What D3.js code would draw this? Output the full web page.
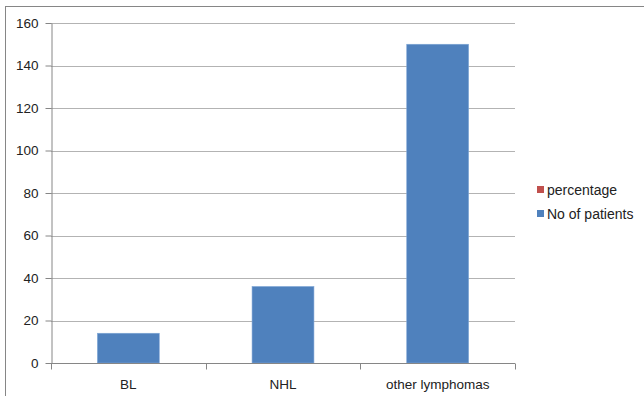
<!DOCTYPE html>
<html>
<head>
<meta charset="utf-8">
<script src="https://cdn.jsdelivr.net/npm/d3@7"></script>
<style>
    body { margin: 0; background: #fff; }
    text { font-family: "Liberation Sans", Arial, sans-serif; fill: #222; }
</style>
</head>
<body>
<div id="chart"></div>
<script>
// chart values
const categories = ["BL", "NHL", "other lymphomas"];
const patients = [14, 36, 150];
const percentage = [null, null, null];
const yTicks = [0, 20, 40, 60, 80, 100, 120, 140, 160];
const seriesNames = ["percentage", "No of patients"];
const seriesColors = ["#c0504d", "#4f81bd"];

const width = 644;
const height = 396;
const plot = { left: 51, right: 515, top: 23, bottom: 363 };

const svg = d3.select("#chart")
    .append("svg")
    .attr("width", width)
    .attr("height", height);

// outer frame (runs off the right and bottom edge)
svg.append("rect")
    .attr("x", 5.5)
    .attr("y", 6.5)
    .attr("width", 700)
    .attr("height", 450)
    .attr("fill", "#fff")
    .attr("stroke", "#868686")
    .attr("stroke-width", 1);

const x = d3.scaleBand()
    .domain(categories)
    .range([plot.left, plot.right])
    .paddingInner(0)
    .paddingOuter(0);

const y = d3.scaleLinear()
    .domain([0, 160])
    .range([plot.bottom, plot.top]);

// gridlines
svg.append("g")
    .selectAll("line")
    .data(yTicks.slice(1))
    .join("line")
    .attr("x1", plot.left)
    .attr("x2", plot.right)
    .attr("y1", d => Math.round(y(d)) + 0.5)
    .attr("y2", d => Math.round(y(d)) + 0.5)
    .attr("stroke", "#b3b3b3")
    .attr("stroke-width", 1);

// bars
svg.append("g")
    .selectAll("rect")
    .data(patients)
    .join("rect")
    .attr("x", (d, i) => x(categories[i]) + x.bandwidth() * 0.3)
    .attr("width", x.bandwidth() * 0.4)
    .attr("y", d => y(d))
    .attr("height", d => y(0) - y(d))
    .attr("fill", seriesColors[1])
    .attr("stroke", "#7fa6d6")
    .attr("stroke-width", 0.6);

// y axis
const yAxis = svg.append("g")
    .attr("transform", `translate(${plot.left + 0.5},0)`)
    .call(d3.axisLeft(y).tickValues(yTicks).tickSize(6).tickPadding(7).tickSizeOuter(0));
yAxis.select(".domain").attr("stroke", "#868686");
yAxis.selectAll(".tick line").attr("stroke", "#868686");
yAxis.selectAll(".tick text").attr("font-size", 13.5).attr("fill", "#222");

// x axis
const xAxis = svg.append("g")
    .attr("transform", `translate(0,${plot.bottom + 0.5})`);
xAxis.append("line")
    .attr("x1", plot.left)
    .attr("x2", plot.right)
    .attr("stroke", "#868686");
xAxis.selectAll("line.tk")
    .data([plot.left, ...categories.map(c => x(c) + x.bandwidth()) ])
    .join("line")
    .attr("class", "tk")
    .attr("x1", d => Math.round(d) + 0.5)
    .attr("x2", d => Math.round(d) + 0.5)
    .attr("y1", 0)
    .attr("y2", 6)
    .attr("stroke", "#868686");
xAxis.selectAll("text")
    .data(categories)
    .join("text")
    .attr("x", d => x(d) + x.bandwidth() / 2)
    .attr("y", 25)
    .attr("text-anchor", "middle")
    .attr("font-size", 13.5)
    .text(d => d);

// legend
const legend = svg.append("g")
    .attr("transform", "translate(537,186)")
    .selectAll("g")
    .data(seriesNames)
    .join("g")
    .attr("transform", (d, i) => `translate(0,${i * 24})`);
legend.append("rect")
    .attr("width", 7)
    .attr("height", 7)
    .attr("fill", (d, i) => seriesColors[i]);
legend.append("text")
    .attr("x", 10)
    .attr("y", 4)
    .attr("dy", "0.35em")
    .attr("font-size", 14)
    .text(d => d);
</script>
</body>
</html>
